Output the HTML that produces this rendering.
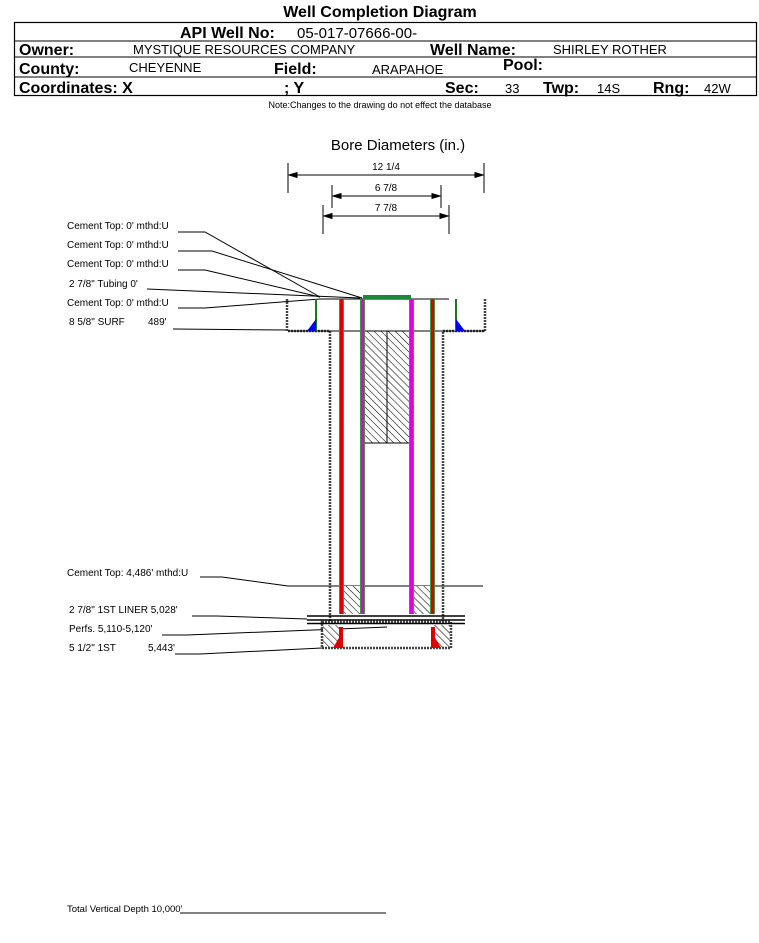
<!DOCTYPE html>
<html><head><meta charset="utf-8"><style>
html,body{margin:0;padding:0;background:#fff;}
svg{display:block;font-family:"Liberation Sans",Arial,sans-serif;}
</style></head><body>
<svg width="759" height="943" viewBox="0 0 759 943" xmlns="http://www.w3.org/2000/svg">
<defs>
<pattern id="h" width="5" height="5" patternUnits="userSpaceOnUse" patternTransform="rotate(-45)">
<rect width="5" height="5" fill="#fff"/><line x1="0" y1="0" x2="0" y2="5" stroke="#000" stroke-width="1.1"/>
</pattern>
</defs>
<!-- header -->
<text x="380" y="17" font-size="16" font-weight="bold" text-anchor="middle">Well Completion Diagram</text>
<rect x="14.5" y="22.5" width="742" height="73" fill="none" stroke="#000" stroke-width="1.2"/>
<line x1="14" y1="41" x2="757" y2="41" stroke="#000"/>
<line x1="14" y1="57" x2="757" y2="57" stroke="#000"/>
<line x1="14" y1="77" x2="757" y2="77" stroke="#000"/>
<g font-size="16" font-weight="bold">
<text x="180" y="38">API Well No:</text>
<text x="19" y="55">Owner:</text>
<text x="430" y="55">Well Name:</text>
<text x="19" y="74">County:</text>
<text x="274" y="74">Field:</text>
<text x="503" y="70">Pool:</text>
<text x="19" y="93">Coordinates: X</text>
<text x="284" y="93">; Y</text>
<text x="445" y="93">Sec:</text>
<text x="543" y="93">Twp:</text>
<text x="653" y="93">Rng:</text>
</g>
<g font-size="13">
<text x="297" y="38" font-size="15">05-017-07666-00-</text>
<text x="133" y="54">MYSTIQUE RESOURCES COMPANY</text>
<text x="553" y="54">SHIRLEY ROTHER</text>
<text x="129" y="72">CHEYENNE</text>
<text x="372" y="74">ARAPAHOE</text>
<text x="505" y="93">33</text>
<text x="597" y="93">14S</text>
<text x="704" y="93">42W</text>
</g>
<text x="380" y="108" font-size="9" text-anchor="middle">Note:Changes to the drawing do not effect the database</text>

<!-- bore diameters -->
<text x="398" y="150" font-size="15" text-anchor="middle">Bore Diameters (in.)</text>
<g stroke="#000" stroke-width="1" fill="#000" font-size="10">
<line x1="288" y1="163" x2="288" y2="193"/><line x1="484" y1="163" x2="484" y2="193"/>
<line x1="290" y1="175" x2="482" y2="175"/>
<polygon points="289,175 297,172.5 297,177.5"/><polygon points="483,175 475,172.5 475,177.5"/>
<line x1="332" y1="185" x2="332" y2="208"/><line x1="441" y1="185" x2="441" y2="208"/>
<line x1="333" y1="196" x2="440" y2="196"/>
<polygon points="333,196 341,193.5 341,198.5"/><polygon points="440,196 432,193.5 432,198.5"/>
<line x1="323" y1="205" x2="323" y2="234"/><line x1="449" y1="205" x2="449" y2="234"/>
<line x1="324" y1="216" x2="448" y2="216"/>
<polygon points="324,216 332,213.5 332,218.5"/><polygon points="448,216 440,213.5 440,218.5"/>
</g>
<g font-size="10" text-anchor="middle">
<text x="386" y="170">12 1/4</text><text x="386" y="191">6 7/8</text><text x="386" y="211">7 7/8</text>
</g>

<!-- labels -->
<g font-size="10">
<text x="67" y="229">Cement Top: 0' mthd:U</text>
<text x="67" y="248">Cement Top: 0' mthd:U</text>
<text x="67" y="267">Cement Top: 0' mthd:U</text>
<text x="69" y="287">2 7/8" Tubing 0'</text>
<text x="67" y="306">Cement Top: 0' mthd:U</text>
<text x="69" y="325">8 5/8" SURF</text><text x="148" y="325">489'</text>
<text x="67" y="576">Cement Top: 4,486' mthd:U</text>
<text x="69" y="613">2 7/8" 1ST LINER  5,028'</text>
<text x="69" y="632">Perfs. 5,110-5,120'</text>
<text x="69" y="651">5 1/2" 1ST</text><text x="148" y="651">5,443'</text>
<text x="67" y="912" font-size="9.5">Total Vertical Depth 10,000'</text>
</g>
<g stroke="#000" stroke-width="1" fill="none">
<polyline points="178,232 205,232 320,297"/>
<polyline points="178,251 212,251 362,298"/>
<polyline points="178,270 205,270 320,297"/>
<polyline points="147,289 360,298"/>
<polyline points="178,308 205,308 320,299"/>
<polyline points="173,329 287,330"/>
<polyline points="200,577 222,577 288,586 483,586"/>
<polyline points="192,616 217,616 307,619"/>
<polyline points="162,635 187,635 387,627"/>
<polyline points="175,654 200,654 322,648"/>
<line x1="180" y1="913" x2="386" y2="913"/>
<line x1="320" y1="299" x2="449" y2="299"/>
</g>

<!-- hatched plug and cement -->
<rect x="363" y="331" width="48" height="112" fill="url(#h)" stroke="#000" stroke-width="1"/>
<line x1="387" y1="331" x2="387" y2="443" stroke="#000"/>
<rect x="343" y="586" width="18" height="28" fill="url(#h)"/>
<rect x="413" y="586" width="18" height="28" fill="url(#h)"/>
<rect x="323" y="625" width="18" height="23" fill="url(#h)"/>
<rect x="432" y="625" width="18" height="23" fill="url(#h)"/>

<!-- surface casing -->
<g stroke="#444" stroke-width="2.5" fill="none" stroke-dasharray="2,1">
<polyline points="287,299 287,331 330,331 330,622"/>
<polyline points="485,299 485,331 443,331 443,622"/>
<rect x="322" y="622" width="129" height="26"/>
</g>
<line x1="288" y1="331" x2="485" y2="331" stroke="#000" stroke-width="1"/>
<!-- blue cement -->
<line x1="316" y1="299" x2="316" y2="331" stroke="#1a7a1a" stroke-width="2"/>
<polygon points="316,319 316,331 307,331" fill="#0000ee"/>
<line x1="456" y1="299" x2="456" y2="331" stroke="#1a7a1a" stroke-width="2"/>
<polygon points="456,319 456,331 465,331" fill="#0000ee"/>
<!-- casing lines -->
<g>
<rect x="339" y="299" width="5" height="315" fill="#3a9a3a"/><rect x="340" y="299" width="3" height="315" fill="#e00000"/>
<rect x="430" y="299" width="5" height="315" fill="#3a9a3a"/><rect x="431" y="299" width="3" height="315" fill="#e00000"/>
<rect x="360" y="299" width="5" height="315" fill="#3a9a3a"/><rect x="361" y="299" width="3" height="315" fill="#e000e0"/>
<rect x="409" y="299" width="5" height="315" fill="#3a9a3a"/><rect x="410" y="299" width="3" height="315" fill="#e000e0"/>
<rect x="363" y="295" width="48" height="4" fill="#1a8a3a"/>
<rect x="339" y="627" width="4" height="21" fill="#e00000"/>
<polygon points="333,648 340,636 341,648" fill="#e00000"/>
<rect x="431" y="627" width="4" height="21" fill="#e00000"/>
<polygon points="441,648 434,636 433,648" fill="#e00000"/>
</g>
<!-- liner lines -->
<g stroke="#000" stroke-width="1.6">
<line x1="307" y1="616" x2="465" y2="616"/>
<line x1="307" y1="620" x2="465" y2="620"/>
<line x1="307" y1="623.5" x2="465" y2="623.5"/>
</g>
</svg>
</body></html>
